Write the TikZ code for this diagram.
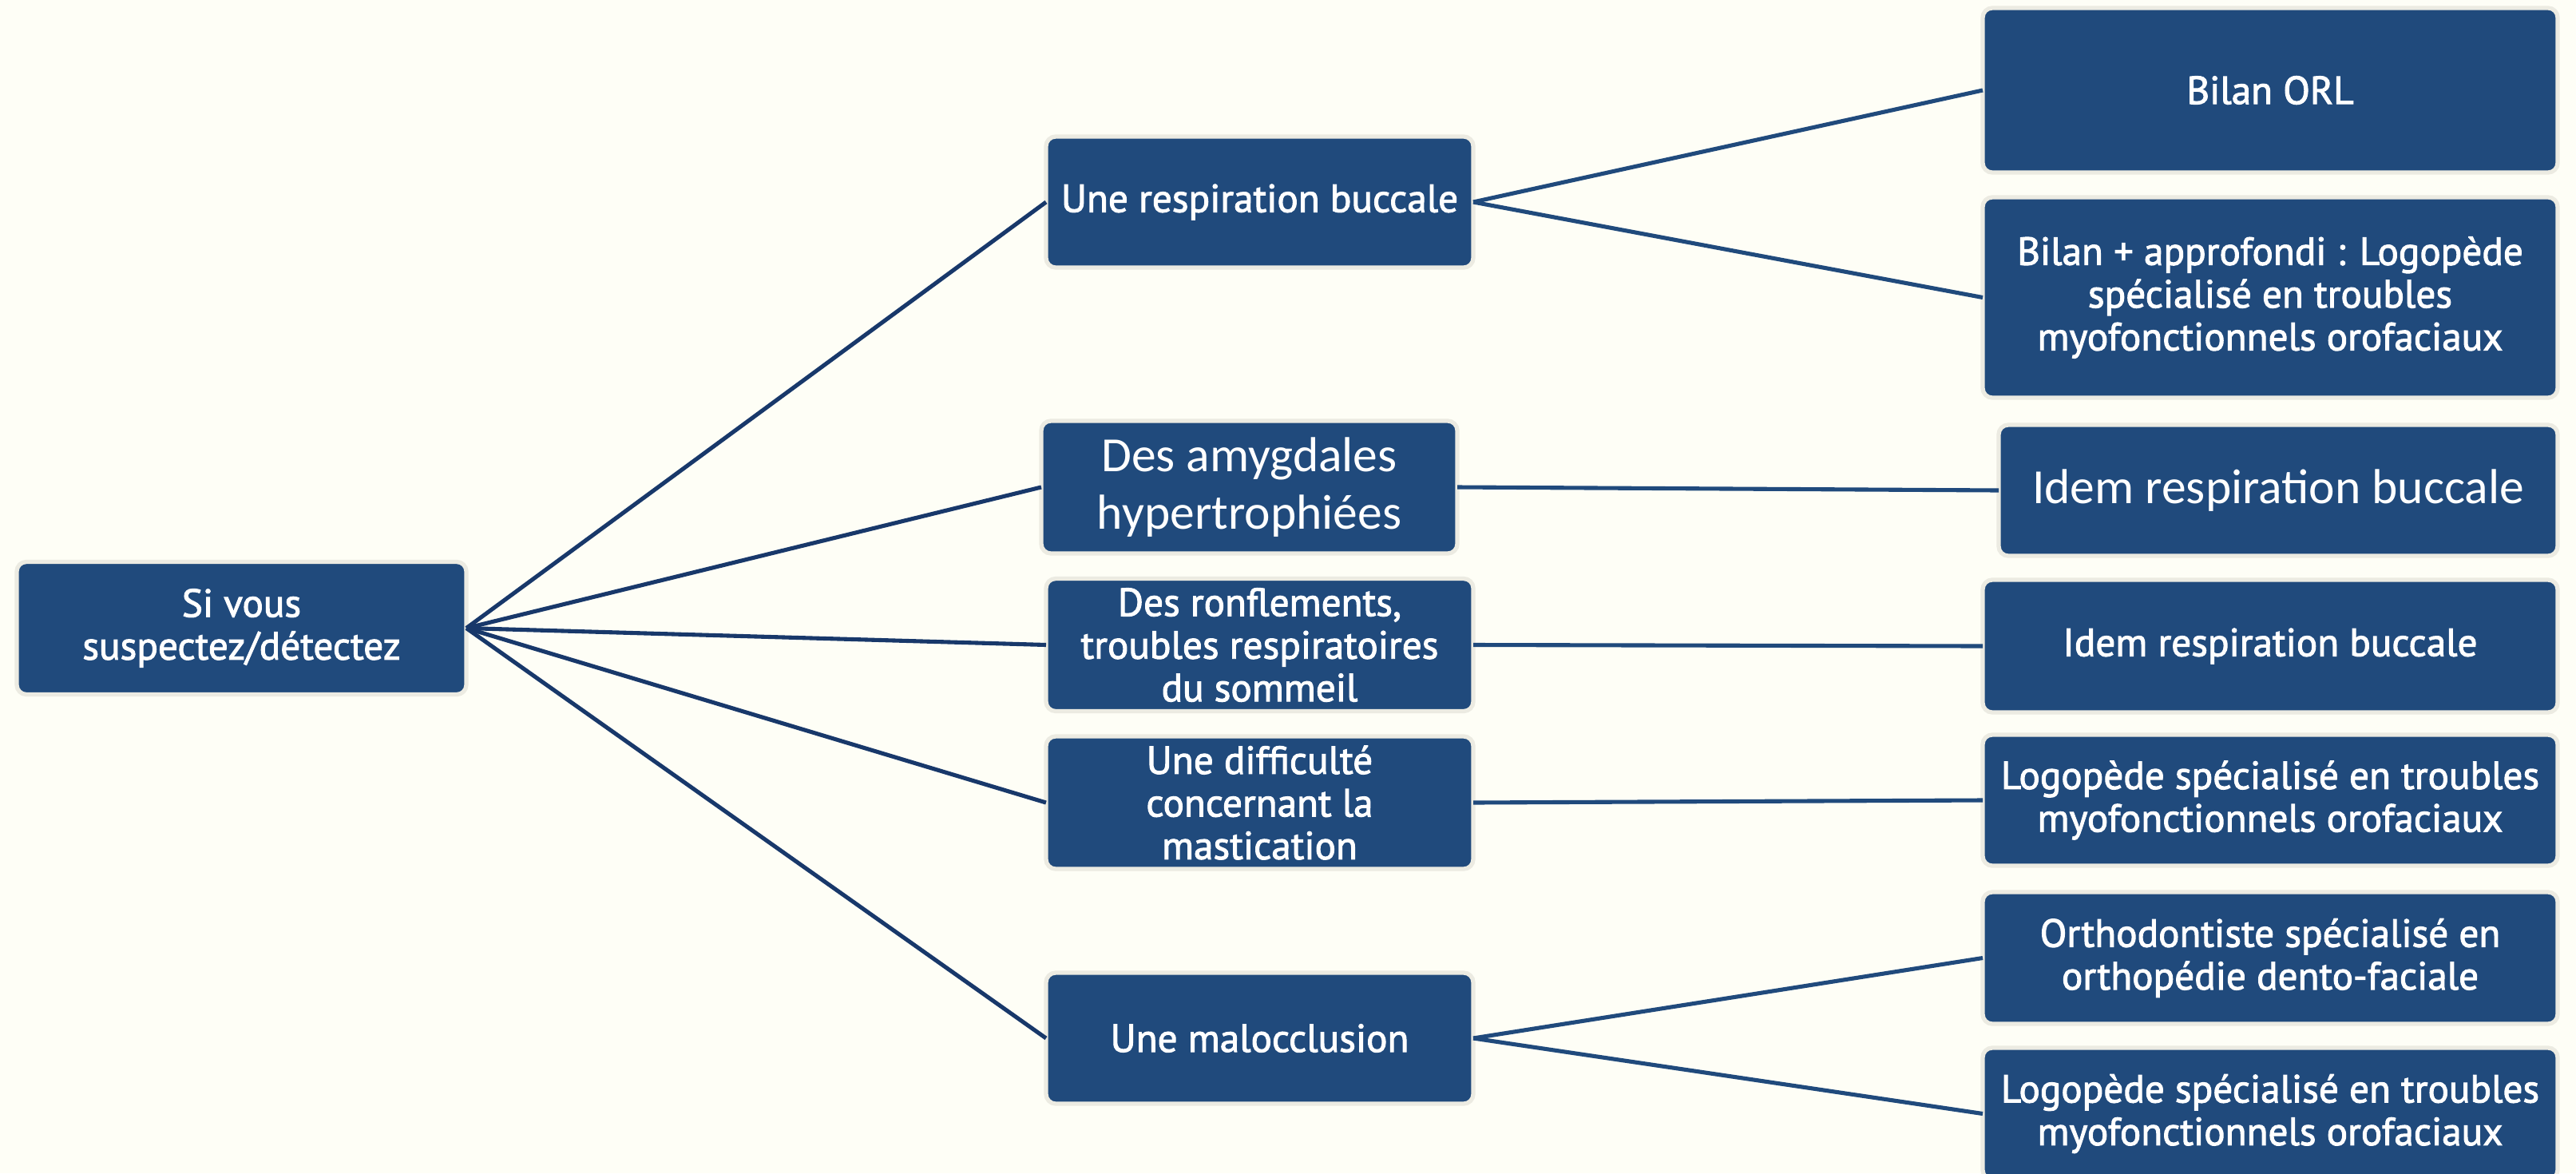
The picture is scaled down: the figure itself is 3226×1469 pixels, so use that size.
\documentclass[tikz,border=0pt]{standalone}
\usepackage{fontspec}
\newfontfamily\dinlike{PT Sans}[FakeBold=2]
\newfontfamily\calib{Carlito}
\definecolor{paper}{HTML}{FEFEF6}
\definecolor{tilefill}{HTML}{204A7C}
\definecolor{tileedge}{HTML}{ECEBE2}
\definecolor{linkdark}{HTML}{18386A}
\definecolor{linklight}{HTML}{204A7C}
\begin{document}
\begin{tikzpicture}[x=0.01cm,y=-0.01cm,
  tile/.style 2 args={draw=tileedge, line width=1.5pt, fill=tilefill,
    rounded corners=0.12cm, text=white, align=center, inner sep=0pt,
    outer sep=0pt, minimum width=#1*0.01cm, minimum height=#2*0.01cm,
    font=\dinlike\fontsize{14}{15.2}\selectfont},
  bigtext/.style={font=\calib\fontsize{17.5}{20.5}\selectfont},
  rootlink/.style={draw=linkdark, line width=1.45pt},
  leaflink/.style={draw=linklight, line width=1.45pt}]
\useasboundingbox (0,0) rectangle (3226,1469);
\fill[paper] (0,0) rectangle (3226,1469);
\clip (0,0) rectangle (3226,1469);

% root
\node[tile={563}{166}] (root) at (302.5,786.5) {Si vous\\suspectez/détectez};

% middle column
\node[tile={535}{164}] (m1) at (1577.5,253) {Une respiration buccale};
\node[tile={521}{166}, bigtext] (m2) at (1564.5,610) {Des amygdales\\hypertrophiées};
\node[tile={535}{166}] (m3) at (1577.5,807.5) {Des ronflements,\\troubles respiratoires\\du sommeil};
\node[tile={535}{166}] (m4) at (1577.5,1005) {Une difficulté\\concernant la\\mastication};
\node[tile={535}{164}] (m5) at (1577.5,1300) {Une malocclusion};

% right column
\node[tile={720}{206}] (r1) at (2843,113) {Bilan ORL};
\node[tile={720}{251}] (r2) at (2843,372.5) {Bilan + approfondi : Logopède\\spécialisé en troubles\\myofonctionnels orofaciaux};
\node[tile={700}{164}, bigtext] (r3) at (2853,614) {Idem respiration buccale};
\node[tile={720}{166}] (r4) at (2843,809) {Idem respiration buccale};
\node[tile={720}{164}] (r5) at (2843,1002) {Logopède spécialisé en troubles\\myofonctionnels orofaciaux};
\node[tile={720}{165}] (r6) at (2843,1199.5) {Orthodontiste spécialisé en\\orthopédie dento-faciale};
\node[tile={720}{165}] (r7) at (2843,1394.5) {Logopède spécialisé en troubles\\myofonctionnels orofaciaux};

% connectors from the root
\foreach \m in {m1,m2,m3,m4,m5}
  \draw[rootlink] (root.east) -- (\m.west);

% connectors to the recommendations
\draw[leaflink] (m1.east) -- (r1.west);
\draw[leaflink] (m1.east) -- (r2.west);
\draw[leaflink] (m2.east) -- (r3.west);
\draw[leaflink] (m3.east) -- (r4.west);
\draw[leaflink] (m4.east) -- (r5.west);
\draw[leaflink] (m5.east) -- (r6.west);
\draw[leaflink] (m5.east) -- (r7.west);
\end{tikzpicture}
\end{document}
